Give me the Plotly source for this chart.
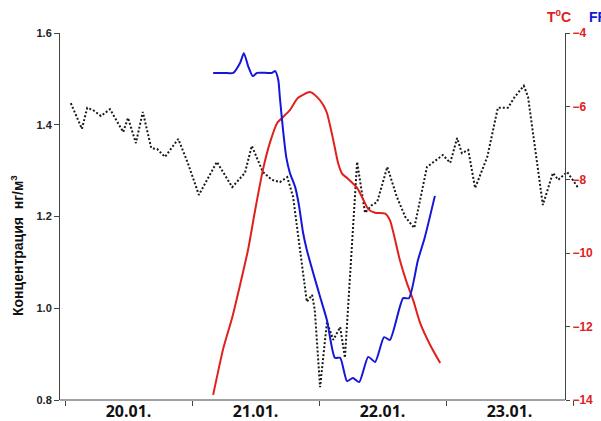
import plotly.graph_objects as go

# Hours from 20.01. 00:00
conc_t = [1.1, 3.2, 4.2, 5.3, 6.8, 8.5, 11.0, 11.9, 13.4, 14.7, 16.3, 17.4, 18.9, 21.4, 23.2,
          25.3, 28.7, 31.6, 34.0, 35.3, 37.4, 39.1, 40.6, 42.0, 43.1, 44.8, 45.7, 46.7, 47.2,
          48.2, 49.5, 50.7, 52.0, 52.9, 53.9, 55.2, 56.7, 58.0, 59.0, 60.9, 62.7, 64.3, 66.0,
          68.4, 71.4, 72.8, 74.1, 75.0, 76.2, 77.5, 79.8, 81.8, 83.7, 85.0, 86.7, 87.5, 90.3,
          92.2, 93.2, 94.9, 97.0]
conc_v = [1.447, 1.391, 1.437, 1.432, 1.419, 1.434, 1.384, 1.415, 1.360, 1.428, 1.349, 1.347,
          1.330, 1.369, 1.317, 1.247, 1.319, 1.264, 1.295, 1.354, 1.297, 1.280, 1.275, 1.286,
          1.243, 1.090, 1.014, 1.029, 0.996, 0.828, 0.970, 0.931, 0.959, 0.892, 1.083, 1.319,
          1.208, 1.225, 1.232, 1.308, 1.243, 1.199, 1.175, 1.308, 1.334, 1.317, 1.371, 1.338,
          1.345, 1.262, 1.330, 1.437, 1.437, 1.461, 1.485, 1.461, 1.225, 1.295, 1.280, 1.297,
          1.262]

temp_t = [28.0, 29.9, 31.6, 33.1, 34.6, 35.9, 37.4, 38.7, 40.1, 41.2, 42.5, 44.0, 46.3,
          47.6, 48.8, 49.5, 50.7, 51.6, 52.4, 53.3, 55.2, 56.3, 57.3, 58.6, 60.5, 61.4, 63.3,
          64.6, 65.8, 67.1, 69.0, 70.9]
temp_v = [-13.86, -12.60, -11.75, -10.85, -9.90, -8.85, -7.73, -7.00, -6.45, -6.29,
          -6.10, -5.77, -5.61, -5.74, -5.96, -6.18, -6.92, -7.54, -7.84, -7.95, -8.22, -8.52,
          -8.80, -8.90, -8.92, -9.10, -10.20, -10.81, -11.28, -11.90, -12.50, -12.99]

ff_t = [28.0, 30.2, 31.8, 33.1, 33.8, 34.6, 35.5, 36.3, 38.2, 39.1, 39.7, 40.3, 40.6, 41.2,
        41.8, 42.5, 43.5, 44.2, 45.0, 45.7, 46.9, 48.2, 49.5, 51.0, 52.0, 53.3, 54.4, 55.6,
        57.3, 58.6, 60.3, 61.4, 63.9, 65.0, 66.7, 68.0, 69.9]
ff_v = [7.13, 7.13, 7.13, 7.35, 7.56, 7.28, 7.06, 7.13, 7.13, 7.13, 7.17, 6.98, 6.60, 5.89,
        5.30, 4.95, 4.64, 4.25, 3.64, 3.27, 2.77, 2.25, 1.74, 0.92, 0.92, 0.41, 0.48, 0.39,
        0.94, 0.83, 1.37, 1.31, 2.22, 2.22, 3.05, 3.55, 4.45]

day_ticks = [0, 24, 48, 72, 96]
day_label_pos = [12, 36, 60, 84]
day_labels = ["20.01.", "21.01.", "22.01.", "23.01."]
conc_ticks = [0.8, 1.0, 1.2, 1.4, 1.6]
temp_ticks = [-14, -12, -10, -8, -6, -4]

RED = "#e0201c"
BLUE = "#1616d8"
AX = "#444444"

fig = go.Figure()
fig.add_trace(go.Scatter(x=conc_t, y=conc_v, mode="lines", yaxis="y",
                         line=dict(color="#1a1a1a", width=2, dash="2px,2px")))
fig.add_trace(go.Scatter(x=temp_t, y=temp_v, mode="lines", yaxis="y2",
                         line=dict(color=RED, width=2, shape="spline", smoothing=0.6)))
fig.add_trace(go.Scatter(x=ff_t, y=ff_v, mode="lines", yaxis="y3",
                         line=dict(color=BLUE, width=2, shape="spline", smoothing=0.6)))

W_PLOT = 520.0
right_pos = (565 - 60) / W_PLOT

fig.update_layout(
    width=601, height=421,
    margin=dict(l=60, r=21, t=33, b=21),
    paper_bgcolor="white", plot_bgcolor="white",
    showlegend=False,
    xaxis=dict(range=[-0.945, 97.32], showline=False, showgrid=False, zeroline=False,
               automargin=False,
               tickmode="array", tickvals=day_label_pos, ticktext=day_labels, ticks="",
               tickfont=dict(family="Open Sans", size=16, color="#111111", weight="bold"),
               ticklabelstandoff=0,
               minor=dict(tickmode="array", tickvals=day_ticks, ticks="outside", ticklen=5,
                          tickcolor=AX, tickwidth=1, showgrid=False)),
    yaxis=dict(range=[0.8, 1.6], tickmode="array", tickvals=conc_ticks, tickformat=".1f",
               automargin=False,
               showline=True, linecolor=AX, linewidth=1, ticks="outside", ticklen=5,
               tickcolor=AX, showgrid=False, zeroline=False,
               tickfont=dict(family="Liberation Sans", size=11, color="#222222", weight="bold")),
    yaxis2=dict(range=[-14, -4], tickmode="array", tickvals=temp_ticks, overlaying="y",
                automargin=False,
                side="right", anchor="free", position=right_pos,
                showline=True, linecolor=AX, linewidth=1, ticks="outside", ticklen=4,
                tickcolor=AX, showgrid=False, zeroline=False,
                tickfont=dict(family="Liberation Sans", size=12, color=RED, weight="bold")),
    yaxis3=dict(range=[0, 8], overlaying="y", visible=False),
)

# x axis baseline up to the right axis
fig.add_shape(type="line", xref="paper", yref="paper", x0=0, x1=right_pos, y0=0, y1=0,
              line=dict(color=AX, width=1))

fig.add_annotation(text="Концентрация  нг/м<sup>3</sup>", xref="paper", yref="paper",
                   x=(17 - 60) / W_PLOT, y=(400 - 246) / 367.0, textangle=-90,
                   showarrow=False, xanchor="center", yanchor="middle",
                   font=dict(family="Liberation Sans", size=14, color="#111111", weight="bold"))
fig.add_annotation(text="T<sup>0</sup>C", xref="paper", yref="paper",
                   x=(559 - 60) / W_PLOT, y=(400 - 16) / 367.0, showarrow=False,
                   xanchor="center", yanchor="middle",
                   font=dict(family="Liberation Sans", size=14, color=RED, weight="bold"))
fig.add_annotation(text="FF", xref="paper", yref="paper",
                   x=(587 - 60) / W_PLOT, y=(400 - 17) / 367.0, showarrow=False,
                   xanchor="left", yanchor="middle",
                   font=dict(family="Liberation Sans", size=14, color=BLUE, weight="bold"))

fig.write_html("out.html")
